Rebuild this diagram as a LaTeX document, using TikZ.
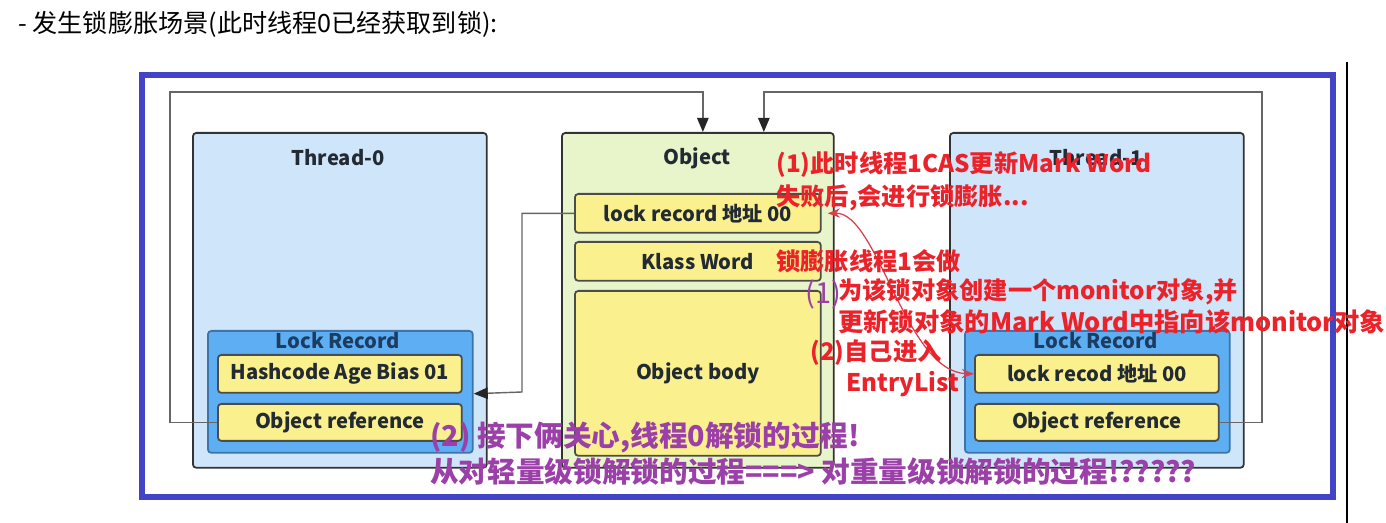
\documentclass[tikz,border=0pt]{standalone}
\usepackage{fontspec}
\setmainfont{Noto Sans CJK SC}
\usetikzlibrary{positioning, arrows.meta}
\definecolor{framebl}{HTML}{4343C8}
\definecolor{threadbl}{HTML}{CFE6FA}
\definecolor{recbl}{HTML}{5DAEF2}
\definecolor{recline}{HTML}{3F74A8}
\definecolor{rectext}{HTML}{1C3C62}
\definecolor{fieldyl}{HTML}{FAF08E}
\definecolor{objgr}{HTML}{E8F5CA}
\definecolor{notered}{HTML}{EB2229}
\definecolor{curvered}{HTML}{DC3C4B}
\definecolor{notepu}{HTML}{9B40A8}
\definecolor{boxtext}{HTML}{222A33}
\newcommand\lblfont{\fontsize{11.5}{13}\selectfont\bfseries}
\newcommand\notefont{\fontsize{13.8}{16}\selectfont\bfseries}
\newcommand\remarkfont{\fontsize{16.3}{19}\selectfont\bfseries}

\begin{document}
\begin{tikzpicture}[x=0.02cm, y=-0.02cm,
	box/.style={draw=black!80, line width=1pt, rounded corners=2pt, anchor=north west, inner sep=0pt},
	threadbox/.style={box, fill=threadbl, minimum width=5.88cm, minimum height=6.7cm},
	objbox/.style={box, fill=objgr, minimum width=5.44cm, minimum height=6.7cm},
	recbox/.style={box, draw=recline, fill=recbl, minimum width=5.3cm, minimum height=2.44cm},
	fieldbox/.style={box, draw=black!70, fill=fieldyl, font=\lblfont, text=boxtext, minimum width=4.88cm, minimum height=0.76cm},
	objfield/.style={fieldbox, minimum width=4.92cm, minimum height=0.78cm},
	heading/.style={font=\lblfont, text=boxtext, inner sep=0pt},
	conn/.style={draw=black!60, line width=0.8pt},
	tip/.style={-{Triangle[length=8pt, width=6.5pt, color=black!85]}},
	note/.style={anchor=west, inner sep=0pt, text=notered, font=\notefont},
	remark/.style={anchor=west, inner sep=0pt, text=notepu, font=\remarkfont}]

	\useasboundingbox (0,0) rectangle (1386,523);
	\fill[white] (0,0) rectangle (1386,523);
	\node[anchor=west, inner sep=0pt, font=\fontsize{14.3}{16}\selectfont] (caption) at (18,24) {- 发生锁膨胀场景(此时线程0已经获取到锁):};
	\draw[black, line width=0.8pt] (1347,62) -- (1347,523);
	\draw[framebl, line width=3.4pt] (142,75) rectangle (1333,497);

	\node[threadbox] (thread0) at (192,132) {};
	\node[heading] (t0title) at (338,158) {Thread-0};
	\node[recbox] (rec0) at (207,330) {};
	\node[heading, text=rectext] (rec0title) at (338,341) {Lock Record};
	\node[fieldbox] (hash0) at (217,354) {Hashcode Age Bias 01};
	\node[fieldbox, minimum height=0.74cm] (objref0) at (217,403) {Object reference};

	\node[objbox] (object) at (561,132) {};
	\node[heading] (objtitle) at (697,158) {Object};
	\node[objfield] (addr) at (574,193) {lock record 地址 00};
	\node[objfield] (klass) at (574,241) {Klass Word};
	\node[objfield, minimum height=3.3cm] (body) at (574,290) {Object body};

	\node[threadbox] (thread1) at (949,132) {};
	\node[heading] (t1title) at (1096,158) {Thread-1};
	\node[recbox] (rec1) at (964,330) {};
	\node[heading, text=rectext] (rec1title) at (1096,341) {Lock Record};
	\node[fieldbox] (addr1) at (974,354) {lock recod 地址 00};
	\node[fieldbox, minimum height=0.74cm] (objref1) at (974,403) {Object reference};

	\draw[conn, tip] (objref0.west) -| (170,92) -| ([xshift=0.1cm]object.north);
	\draw[conn, tip] (objref1.east) -| (1262,92) -| ([xshift=1.32cm]object.north);
	\draw[conn, tip] (addr.west) -| (522,392) -- (rec0.east |- hash0.south);
	\draw[curvered, line width=0.7pt, {Stealth[length=7pt]}-{Stealth[length=7pt]}] ([xshift=0.12cm]addr.east) .. controls (878,212) and (905,372) .. (addr1.west);

	\node[note] (step1a) at (776,165) {(1)此时线程1CAS更新Mark Word};
	\node[note] (step1b) at (776,198) {失败后,会进行锁膨胀...};
	\node[note] (inflate) at (776,261) {锁膨胀线程1会做};
	\node[anchor=west, inner sep=0pt, text=notepu, font=\fontsize{16.5}{19}\selectfont] (mark1) at (805,294) {(1)};
	\node[note] (monitora) at (838,292) {为该锁对象创建一个monitor对象,并};
	\node[note, font=\fontsize{14.4}{16}\selectfont\bfseries] (monitorb) at (838,322) {更新锁对象的Mark Word中指向该monitor对象};
	\node[note] (entrya) at (810,353) {(2)自己进入};
	\node[note] (entryb) at (846,384) {EntryList};
	\node[remark] (unlocka) at (430,437) {(2) 接下俩关心,线程0解锁的过程!};
	\node[remark] (unlockb) at (430,472) {从对轻量级锁解锁的过程===> 对重量级锁解锁的过程!?????};
\end{tikzpicture}
\end{document}
